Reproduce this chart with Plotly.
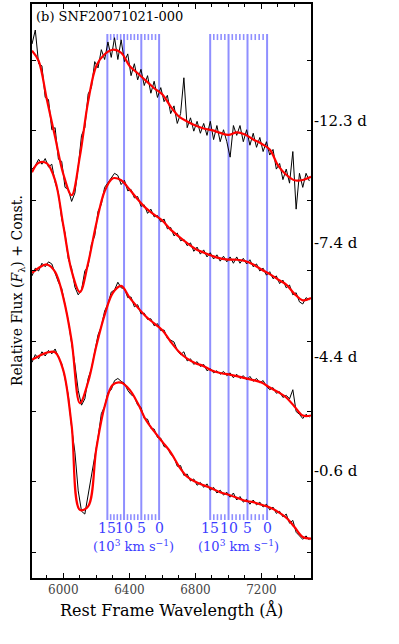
import plotly.graph_objects as go

SERIF = "DejaVu Serif"
BLUE_LINE = "#8f8fff"
BLUE_TEXT = "#3c3cff"
C_KMS = 299.792458  # speed of light in 10^3 km/s

# ── data ─────────────────────────────────────────────────────────────────────
# observed spectra, 20 A sampling
wave_obs = list(range(5810, 7500, 20))

obs_m12 = [7.23, 7.43, 6.95, 6.92, 6.47, 6.44, 6.01, 6.04, 5.59, 5.56,
           5.19, 5.16, 4.99, 5.11, 5.48, 5.93, 6.04, 6.52, 6.61, 6.98,
           6.89, 7.15, 7.01, 7.26, 7.04, 7.32, 7.01, 7.29, 6.98, 7.09,
           6.78, 6.95, 6.72, 6.87, 6.64, 6.78, 6.53, 6.70, 6.47, 6.61,
           6.41, 6.50, 6.24, 6.35, 6.10, 6.24, 6.75, 6.04, 6.18, 5.99,
           6.13, 5.96, 6.10, 5.93, 6.13, 5.87, 6.07, 5.84, 6.01, 5.84,
           5.62, 6.07, 5.93, 6.07, 5.84, 6.01, 5.79, 5.96, 5.76, 5.90,
           5.70, 5.84, 5.65, 5.73, 5.45, 5.53, 5.30, 5.45, 5.25, 5.70,
           4.88, 5.39, 5.19, 5.39, 5.28]

obs_m7 = [5.45, 5.50, 5.59, 5.52, 5.60, 5.48, 5.52, 5.26, 5.11, 4.74,
          4.54, 4.17, 4.04, 3.77, 3.66, 3.73, 4.00, 4.07, 4.38, 4.50,
          4.85, 4.95, 5.19, 5.26, 5.33, 5.39, 5.36, 5.23, 5.29, 5.14,
          5.16, 5.04, 5.06, 4.92, 4.94, 4.82, 4.88, 4.77, 4.79, 4.70,
          4.74, 4.60, 4.62, 4.50, 4.54, 4.43, 4.45, 4.36, 4.40, 4.28,
          4.34, 4.24, 4.30, 4.20, 4.26, 4.17, 4.23, 4.14, 4.21, 4.13,
          4.20, 4.11, 4.20, 4.11, 4.18, 4.10, 4.16, 4.06, 4.10, 4.00,
          4.04, 3.94, 3.99, 3.89, 3.93, 3.82, 3.87, 3.76, 3.80, 3.66,
          3.69, 3.56, 3.53, 3.62, 3.59]

obs_m4 = [3.93, 4.04, 4.00, 4.11, 4.06, 4.13, 4.10, 3.97, 3.84, 3.75,
          3.50, 3.29, 2.97, 2.67, 2.30, 2.09, 2.18, 2.47, 2.61, 2.84,
          3.09, 3.21, 3.43, 3.53, 3.70, 3.73, 3.84, 3.76, 3.75, 3.62,
          3.63, 3.49, 3.52, 3.39, 3.40, 3.31, 3.32, 3.22, 3.25, 3.15,
          3.16, 3.04, 3.02, 2.99, 2.87, 2.81, 2.85, 2.72, 2.75, 2.67,
          2.71, 2.64, 2.67, 2.58, 2.61, 2.55, 2.58, 2.53, 2.57, 2.51,
          2.55, 2.48, 2.53, 2.47, 2.51, 2.45, 2.50, 2.43, 2.47, 2.41,
          2.44, 2.36, 2.31, 2.34, 2.26, 2.28, 2.20, 2.23, 2.18, 2.31,
          2.00, 1.96, 1.90, 1.96, 1.92]

obs_m06 = [2.70, 2.81, 2.75, 2.85, 2.79, 2.87, 2.82, 2.89, 2.77, 2.68,
           2.47, 2.23, 1.77, 1.42, 0.87, 0.58, 0.54, 0.81, 1.06, 1.35,
           1.63, 1.97, 2.07, 2.27, 2.31, 2.44, 2.47, 2.43, 2.40, 2.30,
           2.24, 2.21, 2.09, 2.06, 1.90, 1.89, 1.76, 1.75, 1.63, 1.62,
           1.50, 1.49, 1.39, 1.35, 1.22, 1.23, 1.09, 1.11, 1.01, 1.04,
           0.95, 0.99, 0.92, 0.97, 0.88, 0.92, 0.84, 0.88, 0.81, 0.85,
           0.78, 0.84, 0.74, 0.79, 0.71, 0.75, 0.68, 0.74, 0.67, 0.71,
           0.64, 0.68, 0.60, 0.64, 0.55, 0.58, 0.50, 0.54, 0.41, 0.45,
           0.28, 0.23, 0.18, 0.23, 0.17]

# smoothed fits, 50 A sampling
wave_fit = [5810] + list(range(5850, 7501, 50))

fit_m12 = [7.135, 6.993, 6.440, 5.906, 5.376, 5.078, 5.631, 6.411, 6.922, 7.085,
           7.149, 7.106, 6.922, 6.814, 6.709, 6.601, 6.513, 6.340, 6.199, 6.128,
           6.071, 6.028, 6.004, 5.965, 5.936, 5.972, 5.943, 5.872, 5.811, 5.730,
           5.504, 5.369, 5.291, 5.295, 5.340]

fit_m7 = [5.404, 5.539, 5.532, 5.291, 4.643, 4.000, 3.700, 4.113, 4.681, 5.135,
          5.319, 5.291, 5.163, 5.021, 4.894, 4.801, 4.716, 4.589, 4.489, 4.397,
          4.312, 4.262, 4.216, 4.179, 4.162, 4.160, 4.142, 4.092, 4.021, 3.955,
          3.879, 3.807, 3.674, 3.582, 3.617]

fit_m4 = [3.972, 4.043, 4.092, 3.986, 3.617, 3.007, 2.120, 2.420, 2.936, 3.376,
          3.688, 3.787, 3.624, 3.482, 3.353, 3.254, 3.156, 2.993, 2.851, 2.752,
          2.688, 2.645, 2.582, 2.548, 2.528, 2.504, 2.475, 2.447, 2.413, 2.342,
          2.277, 2.199, 2.071, 1.943, 1.943]

fit_m06 = [2.738, 2.787, 2.837, 2.844, 2.582, 1.801, 0.600, 0.650, 1.475, 2.071,
           2.383, 2.411, 2.312, 2.121, 1.879, 1.716, 1.567, 1.418, 1.220, 1.071,
           1.000, 0.950, 0.904, 0.851, 0.814, 0.773, 0.730, 0.709, 0.672, 0.633,
           0.572, 0.489, 0.355, 0.213, 0.191]

epochs = ["-12.3 d", "-7.4 d", "-4.4 d", "-0.6 d"]

# C II 6580 / 7234 velocity markers (10^3 km/s)
rest_lines = [6580, 7234]
vel_major = [15, 10, 5, 0]
vel_minor = [14, 13, 12, 11, 9, 8, 7, 6, 4, 3, 2, 1]

# ── layout constants ─────────────────────────────────────────────────────────
Y_RANGE = [-0.37, 7.80]
MARK_TOP, MARK_BOT = 7.372, 0.454
TICK_LEN = 0.085
EPOCH_Y = [6.13, 4.40, 2.77, 1.16]
VEL_LABEL_Y, UNIT_LABEL_Y = 0.34, 0.085


def shifted(rest, v):
    return rest / (1 + v / C_KMS)


fig = go.Figure()

# velocity marker lines (drawn first so the spectra sit on top)
mx, my = [], []
tx, ty = [], []
for rest in rest_lines:
    for v in vel_major:
        w = shifted(rest, v)
        mx += [w, w, None]
        my += [MARK_BOT, MARK_TOP, None]
    for v in vel_minor:
        w = shifted(rest, v)
        tx += [w, w, None, w, w, None]
        ty += [MARK_TOP, MARK_TOP - TICK_LEN, None,
               MARK_BOT, MARK_BOT + TICK_LEN, None]

fig.add_trace(go.Scatter(x=mx, y=my, mode="lines",
                         line=dict(color=BLUE_LINE, width=2), hoverinfo="skip"))
fig.add_trace(go.Scatter(x=tx, y=ty, mode="lines",
                         line=dict(color=BLUE_LINE, width=1.6), hoverinfo="skip"))

spectra = [(obs_m12, fit_m12), (obs_m7, fit_m7), (obs_m4, fit_m4), (obs_m06, fit_m06)]
for (obs, fit), ep in zip(spectra, epochs):
    fig.add_trace(go.Scatter(x=wave_obs, y=obs, mode="lines", name=ep,
                             line=dict(color="black", width=1)))
    fig.add_trace(go.Scatter(x=wave_fit, y=fit, mode="lines", name=ep + " fit",
                             line=dict(color="red", width=2.2, shape="spline")))

ann = []
for ep, y in zip(epochs, EPOCH_Y):
    ann.append(dict(x=1, xref="paper", xanchor="left", xshift=1, y=y, yref="y",
                    text=ep, showarrow=False, font=dict(size=15)))
for rest in rest_lines:
    for v in vel_major:
        ann.append(dict(x=shifted(rest, v), y=VEL_LABEL_Y, xref="x", yref="y",
                        xanchor="center", text=str(v), showarrow=False,
                        font=dict(size=14, color=BLUE_TEXT)))
    mid = (shifted(rest, vel_major[0]) + shifted(rest, vel_major[-1])) / 2
    ann.append(dict(x=mid, y=UNIT_LABEL_Y, xref="x", yref="y", xanchor="center",
                    text="(10<sup>3</sup> km s<sup>\u22121</sup>)", showarrow=False,
                    font=dict(size=13, color=BLUE_TEXT)))

ann.append(dict(x=0, xref="paper", xanchor="left", xshift=2,
                y=1, yref="paper", yanchor="top", yshift=-3,
                text="(b) SNF20071021-000", showarrow=False, font=dict(size=13)))
ann.append(dict(x=0.5, xref="paper", xanchor="center", y=0, yref="paper",
                yanchor="middle", yshift=-32,
                text="Rest Frame Wavelength (\u00c5)", showarrow=False,
                font=dict(size=16)))
ann.append(dict(x=0, xref="paper", xanchor="center", xshift=-14,
                y=0.5, yref="paper", yanchor="middle",
                text="Relative Flux (<i>F</i><sub>\u03bb</sub>) + Const.",
                textangle=-90, showarrow=False, font=dict(size=14)))

fig.update_layout(
    width=399, height=644,
    margin=dict(l=32, r=88, t=2, b=66),
    paper_bgcolor="white", plot_bgcolor="white",
    showlegend=False,
    font=dict(family=SERIF, color="black"),
    annotations=ann,
)
fig.update_xaxes(
    range=[5810, 7500], tick0=6000, dtick=400,
    ticks="inside", ticklen=5, tickwidth=1.3, tickcolor="black",
    minor=dict(dtick=100, ticks="inside", ticklen=3, tickcolor="black"),
    showline=True, linewidth=2, linecolor="black", mirror="allticks",
    showgrid=False, zeroline=False,
    tickfont=dict(size=12, color="#444"),
)
fig.update_yaxes(
    range=Y_RANGE, tick0=0, dtick=1, showticklabels=False,
    ticks="inside", ticklen=4, tickwidth=1.3, tickcolor="black",
    showline=True, linewidth=2, linecolor="black", mirror="allticks",
    showgrid=False, zeroline=False,
)

fig.write_html("out.html", config={"displayModeBar": False},
               post_script="document.body.style.margin='0';")
